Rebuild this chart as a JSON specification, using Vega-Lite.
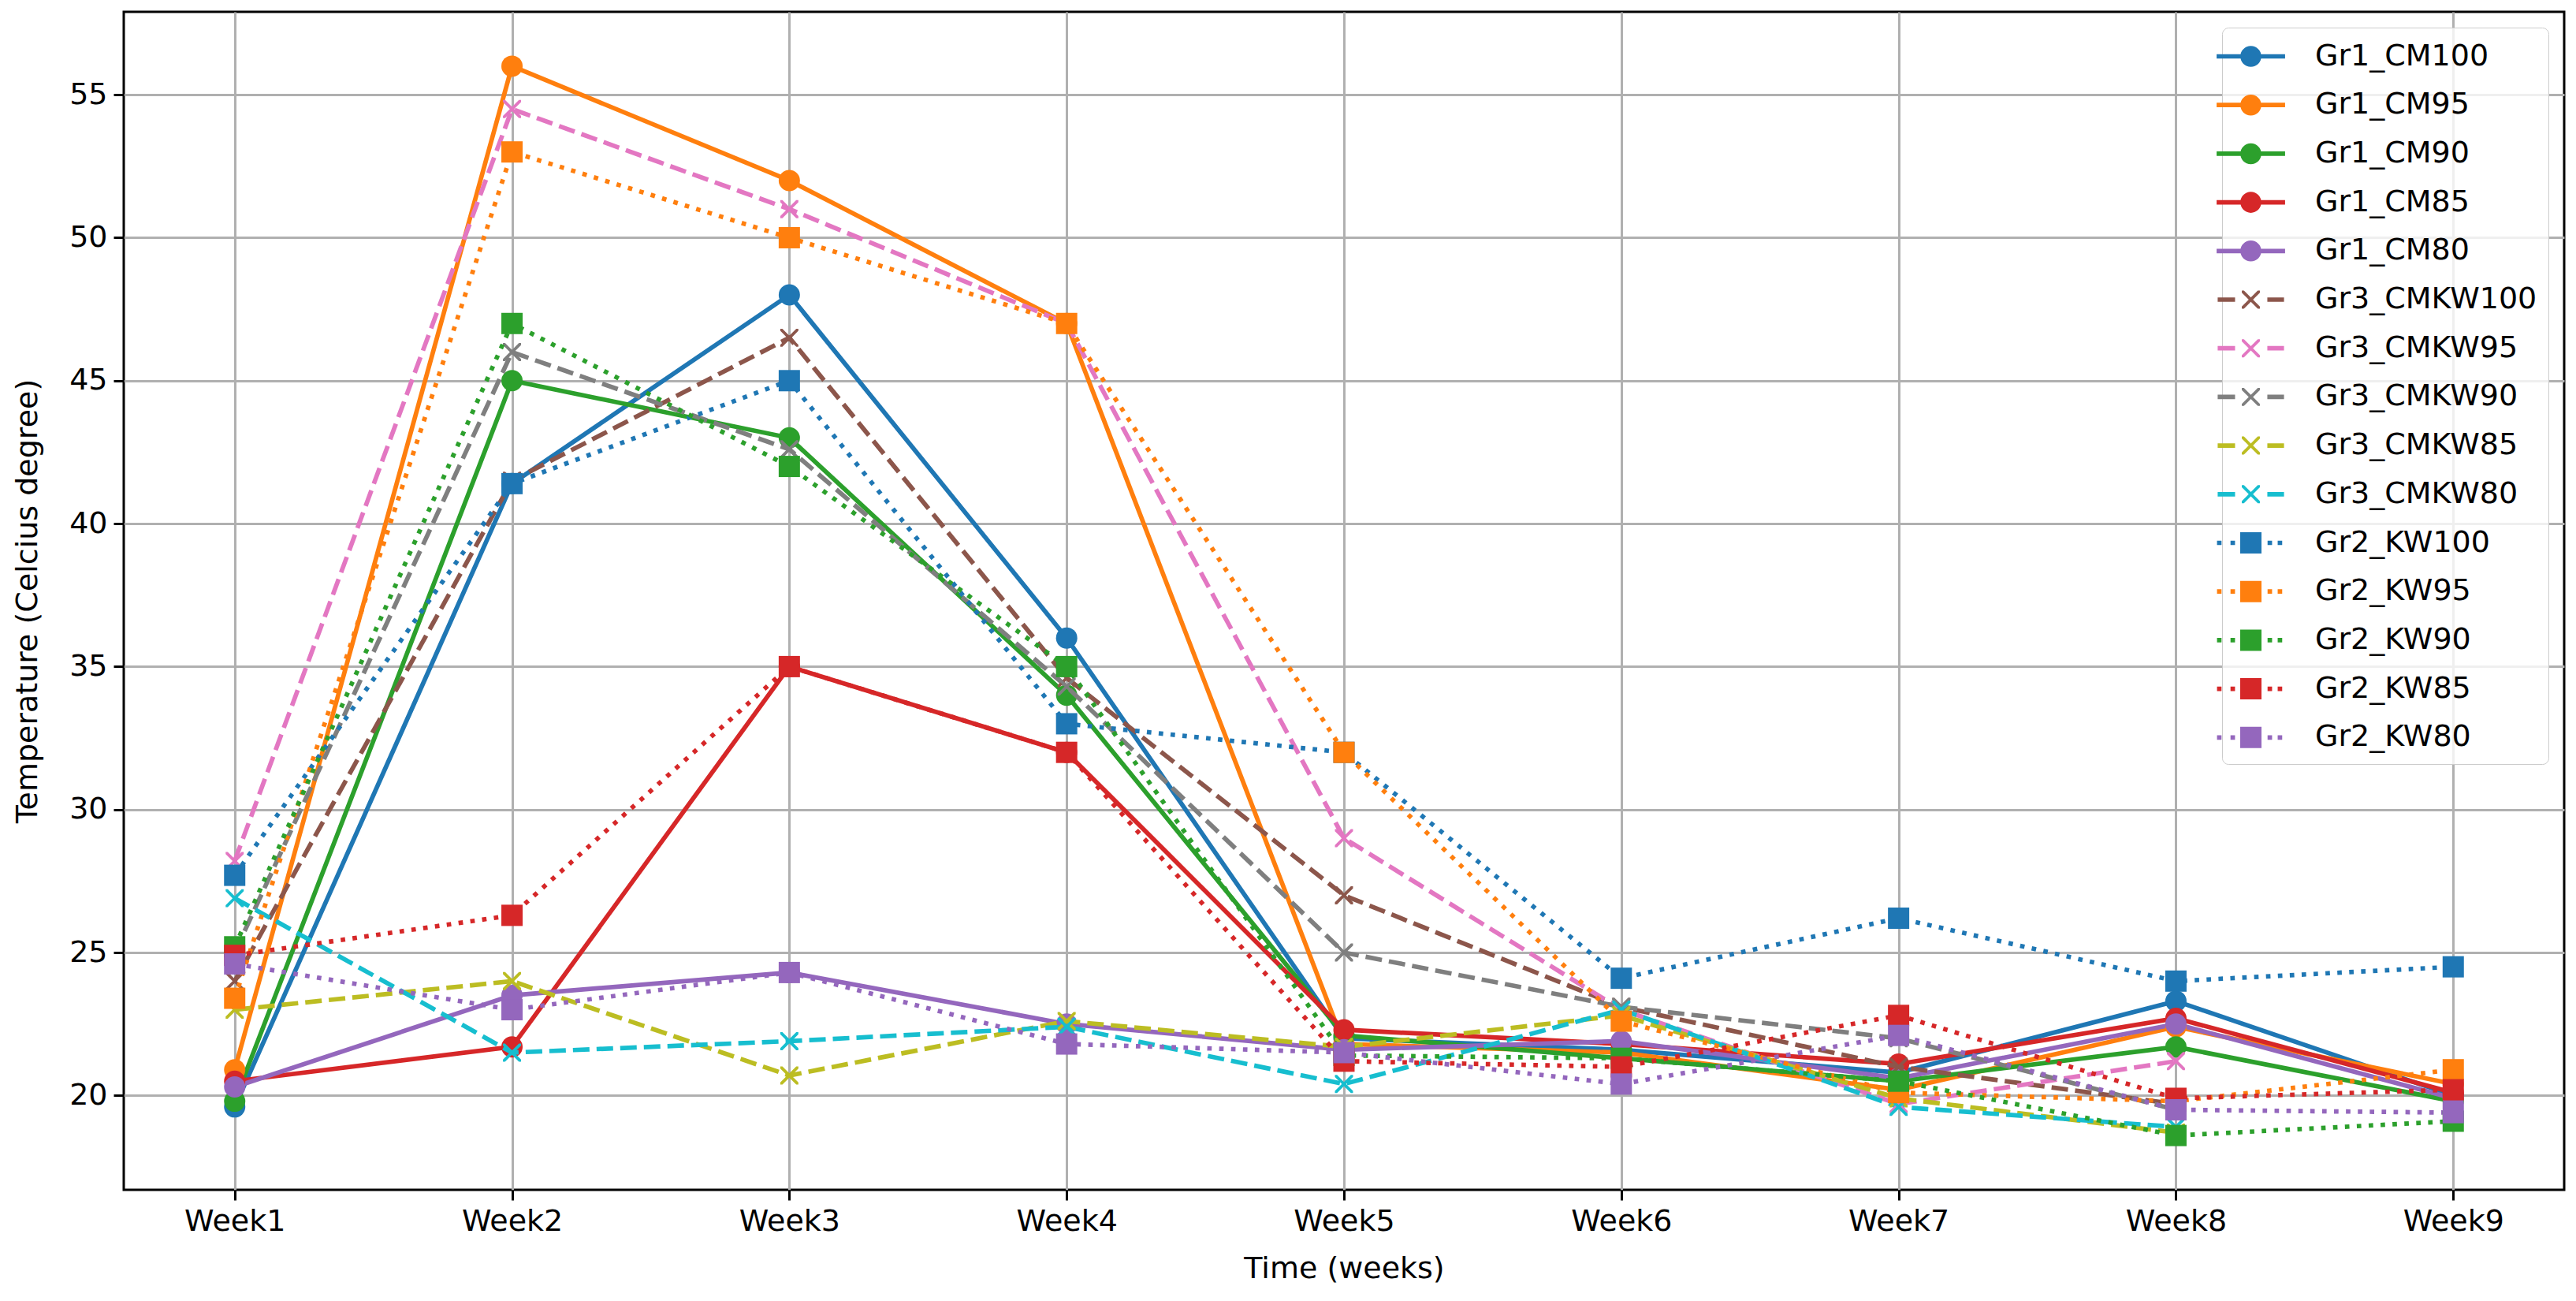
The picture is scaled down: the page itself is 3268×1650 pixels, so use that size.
{
  "$schema": "https://vega.github.io/schema/vega-lite/v6.json",
  "width": 3096,
  "height": 1494,
  "autosize": {"type": "none"},
  "padding": {"left": 157, "top": 15, "right": 15, "bottom": 141},
  "background": "#ffffff",
  "data": {
    "values": [
      {"series": "Gr1_CM100", "week": "Week1", "temp": 19.6},
      {"series": "Gr1_CM100", "week": "Week2", "temp": 41.4},
      {"series": "Gr1_CM100", "week": "Week3", "temp": 48.0},
      {"series": "Gr1_CM100", "week": "Week4", "temp": 36.0},
      {"series": "Gr1_CM100", "week": "Week5", "temp": 22.0},
      {"series": "Gr1_CM100", "week": "Week6", "temp": 21.6},
      {"series": "Gr1_CM100", "week": "Week7", "temp": 20.8},
      {"series": "Gr1_CM100", "week": "Week8", "temp": 23.3},
      {"series": "Gr1_CM100", "week": "Week9", "temp": 20.0},
      {"series": "Gr1_CM95", "week": "Week1", "temp": 20.9},
      {"series": "Gr1_CM95", "week": "Week2", "temp": 56.0},
      {"series": "Gr1_CM95", "week": "Week3", "temp": 52.0},
      {"series": "Gr1_CM95", "week": "Week4", "temp": 47.0},
      {"series": "Gr1_CM95", "week": "Week5", "temp": 21.8},
      {"series": "Gr1_CM95", "week": "Week6", "temp": 21.5},
      {"series": "Gr1_CM95", "week": "Week7", "temp": 20.2},
      {"series": "Gr1_CM95", "week": "Week8", "temp": 22.4},
      {"series": "Gr1_CM95", "week": "Week9", "temp": 20.4},
      {"series": "Gr1_CM90", "week": "Week1", "temp": 19.8},
      {"series": "Gr1_CM90", "week": "Week2", "temp": 45.0},
      {"series": "Gr1_CM90", "week": "Week3", "temp": 43.0},
      {"series": "Gr1_CM90", "week": "Week4", "temp": 34.0},
      {"series": "Gr1_CM90", "week": "Week5", "temp": 22.1},
      {"series": "Gr1_CM90", "week": "Week6", "temp": 21.3},
      {"series": "Gr1_CM90", "week": "Week7", "temp": 20.5},
      {"series": "Gr1_CM90", "week": "Week8", "temp": 21.7},
      {"series": "Gr1_CM90", "week": "Week9", "temp": 19.8},
      {"series": "Gr1_CM85", "week": "Week1", "temp": 20.5},
      {"series": "Gr1_CM85", "week": "Week2", "temp": 21.7},
      {"series": "Gr1_CM85", "week": "Week3", "temp": 35.0},
      {"series": "Gr1_CM85", "week": "Week4", "temp": 32.0},
      {"series": "Gr1_CM85", "week": "Week5", "temp": 22.3},
      {"series": "Gr1_CM85", "week": "Week6", "temp": 21.8},
      {"series": "Gr1_CM85", "week": "Week7", "temp": 21.1},
      {"series": "Gr1_CM85", "week": "Week8", "temp": 22.7},
      {"series": "Gr1_CM85", "week": "Week9", "temp": 20.1},
      {"series": "Gr1_CM80", "week": "Week1", "temp": 20.3},
      {"series": "Gr1_CM80", "week": "Week2", "temp": 23.5},
      {"series": "Gr1_CM80", "week": "Week3", "temp": 24.3},
      {"series": "Gr1_CM80", "week": "Week4", "temp": 22.5},
      {"series": "Gr1_CM80", "week": "Week5", "temp": 21.6},
      {"series": "Gr1_CM80", "week": "Week6", "temp": 21.9},
      {"series": "Gr1_CM80", "week": "Week7", "temp": 20.6},
      {"series": "Gr1_CM80", "week": "Week8", "temp": 22.5},
      {"series": "Gr1_CM80", "week": "Week9", "temp": 19.9},
      {"series": "Gr3_CMKW100", "week": "Week1", "temp": 24.0},
      {"series": "Gr3_CMKW100", "week": "Week2", "temp": 41.5},
      {"series": "Gr3_CMKW100", "week": "Week3", "temp": 46.5},
      {"series": "Gr3_CMKW100", "week": "Week4", "temp": 34.6},
      {"series": "Gr3_CMKW100", "week": "Week5", "temp": 27.0},
      {"series": "Gr3_CMKW100", "week": "Week6", "temp": 23.1},
      {"series": "Gr3_CMKW100", "week": "Week7", "temp": 21.0},
      {"series": "Gr3_CMKW100", "week": "Week8", "temp": 19.7},
      {"series": "Gr3_CMKW95", "week": "Week1", "temp": 28.2},
      {"series": "Gr3_CMKW95", "week": "Week2", "temp": 54.5},
      {"series": "Gr3_CMKW95", "week": "Week3", "temp": 51.0},
      {"series": "Gr3_CMKW95", "week": "Week4", "temp": 47.0},
      {"series": "Gr3_CMKW95", "week": "Week5", "temp": 29.0},
      {"series": "Gr3_CMKW95", "week": "Week6", "temp": 23.0},
      {"series": "Gr3_CMKW95", "week": "Week7", "temp": 19.7},
      {"series": "Gr3_CMKW95", "week": "Week8", "temp": 21.2},
      {"series": "Gr3_CMKW90", "week": "Week1", "temp": 25.0},
      {"series": "Gr3_CMKW90", "week": "Week2", "temp": 46.0},
      {"series": "Gr3_CMKW90", "week": "Week3", "temp": 42.6},
      {"series": "Gr3_CMKW90", "week": "Week4", "temp": 34.3},
      {"series": "Gr3_CMKW90", "week": "Week5", "temp": 25.0},
      {"series": "Gr3_CMKW90", "week": "Week6", "temp": 23.1},
      {"series": "Gr3_CMKW90", "week": "Week7", "temp": 22.0},
      {"series": "Gr3_CMKW90", "week": "Week8", "temp": 19.5},
      {"series": "Gr3_CMKW85", "week": "Week1", "temp": 23.0},
      {"series": "Gr3_CMKW85", "week": "Week2", "temp": 24.0},
      {"series": "Gr3_CMKW85", "week": "Week3", "temp": 20.7},
      {"series": "Gr3_CMKW85", "week": "Week4", "temp": 22.6},
      {"series": "Gr3_CMKW85", "week": "Week5", "temp": 21.7},
      {"series": "Gr3_CMKW85", "week": "Week6", "temp": 22.8},
      {"series": "Gr3_CMKW85", "week": "Week7", "temp": 19.9},
      {"series": "Gr3_CMKW85", "week": "Week8", "temp": 18.7},
      {"series": "Gr3_CMKW80", "week": "Week1", "temp": 26.9},
      {"series": "Gr3_CMKW80", "week": "Week2", "temp": 21.5},
      {"series": "Gr3_CMKW80", "week": "Week3", "temp": 21.9},
      {"series": "Gr3_CMKW80", "week": "Week4", "temp": 22.4},
      {"series": "Gr3_CMKW80", "week": "Week5", "temp": 20.4},
      {"series": "Gr3_CMKW80", "week": "Week6", "temp": 23.0},
      {"series": "Gr3_CMKW80", "week": "Week7", "temp": 19.6},
      {"series": "Gr3_CMKW80", "week": "Week8", "temp": 18.9},
      {"series": "Gr2_KW100", "week": "Week1", "temp": 27.7},
      {"series": "Gr2_KW100", "week": "Week2", "temp": 41.4},
      {"series": "Gr2_KW100", "week": "Week3", "temp": 45.0},
      {"series": "Gr2_KW100", "week": "Week4", "temp": 33.0},
      {"series": "Gr2_KW100", "week": "Week5", "temp": 32.0},
      {"series": "Gr2_KW100", "week": "Week6", "temp": 24.1},
      {"series": "Gr2_KW100", "week": "Week7", "temp": 26.2},
      {"series": "Gr2_KW100", "week": "Week8", "temp": 24.0},
      {"series": "Gr2_KW100", "week": "Week9", "temp": 24.5},
      {"series": "Gr2_KW95", "week": "Week1", "temp": 23.4},
      {"series": "Gr2_KW95", "week": "Week2", "temp": 53.0},
      {"series": "Gr2_KW95", "week": "Week3", "temp": 50.0},
      {"series": "Gr2_KW95", "week": "Week4", "temp": 47.0},
      {"series": "Gr2_KW95", "week": "Week5", "temp": 32.0},
      {"series": "Gr2_KW95", "week": "Week6", "temp": 22.6},
      {"series": "Gr2_KW95", "week": "Week7", "temp": 20.1},
      {"series": "Gr2_KW95", "week": "Week8", "temp": 19.8},
      {"series": "Gr2_KW95", "week": "Week9", "temp": 20.9},
      {"series": "Gr2_KW90", "week": "Week1", "temp": 25.2},
      {"series": "Gr2_KW90", "week": "Week2", "temp": 47.0},
      {"series": "Gr2_KW90", "week": "Week3", "temp": 42.0},
      {"series": "Gr2_KW90", "week": "Week4", "temp": 35.0},
      {"series": "Gr2_KW90", "week": "Week5", "temp": 21.4},
      {"series": "Gr2_KW90", "week": "Week6", "temp": 21.3},
      {"series": "Gr2_KW90", "week": "Week7", "temp": 20.5},
      {"series": "Gr2_KW90", "week": "Week8", "temp": 18.6},
      {"series": "Gr2_KW90", "week": "Week9", "temp": 19.1},
      {"series": "Gr2_KW85", "week": "Week1", "temp": 24.9},
      {"series": "Gr2_KW85", "week": "Week2", "temp": 26.3},
      {"series": "Gr2_KW85", "week": "Week3", "temp": 35.0},
      {"series": "Gr2_KW85", "week": "Week4", "temp": 32.0},
      {"series": "Gr2_KW85", "week": "Week5", "temp": 21.2},
      {"series": "Gr2_KW85", "week": "Week6", "temp": 21.0},
      {"series": "Gr2_KW85", "week": "Week7", "temp": 22.8},
      {"series": "Gr2_KW85", "week": "Week8", "temp": 19.9},
      {"series": "Gr2_KW85", "week": "Week9", "temp": 20.2},
      {"series": "Gr2_KW80", "week": "Week1", "temp": 24.6},
      {"series": "Gr2_KW80", "week": "Week2", "temp": 23.0},
      {"series": "Gr2_KW80", "week": "Week3", "temp": 24.3},
      {"series": "Gr2_KW80", "week": "Week4", "temp": 21.8},
      {"series": "Gr2_KW80", "week": "Week5", "temp": 21.5},
      {"series": "Gr2_KW80", "week": "Week6", "temp": 20.4},
      {"series": "Gr2_KW80", "week": "Week7", "temp": 22.1},
      {"series": "Gr2_KW80", "week": "Week8", "temp": 19.5},
      {"series": "Gr2_KW80", "week": "Week9", "temp": 19.4}
    ]
  },
  "encoding": {
    "x": {
      "field": "week", "type": "nominal",
      "scale": {"type": "point", "padding": 0.4},
      "axis": {"title": "Time (weeks)", "labelAngle": 0, "titlePadding": 22}
    },
    "y": {
      "field": "temp", "type": "quantitative",
      "scale": {"domain": [16.7, 57.9], "nice": false, "zero": false},
      "axis": {"title": "Temperature (Celcius degree)", "values": [20, 25, 30, 35, 40, 45, 50, 55], "titlePadding": 33}
    },
    "color": {
      "field": "series", "type": "nominal",
      "scale": {
        "domain": ["Gr1_CM100", "Gr1_CM95", "Gr1_CM90", "Gr1_CM85", "Gr1_CM80", "Gr3_CMKW100", "Gr3_CMKW95", "Gr3_CMKW90", "Gr3_CMKW85", "Gr3_CMKW80", "Gr2_KW100", "Gr2_KW95", "Gr2_KW90", "Gr2_KW85", "Gr2_KW80"],
        "range": ["#1f77b4", "#ff7f0e", "#2ca02c", "#d62728", "#9467bd", "#8c564b", "#e377c2", "#7f7f7f", "#bcbd22", "#17becf", "#1f77b4", "#ff7f0e", "#2ca02c", "#d62728", "#9467bd"]
      },
      "legend": {
        "title": null,
        "orient": "top-right",
        "offset": 20,
        "labelFont": "DejaVu Sans",
        "labelFontSize": 38,
        "labelColor": "#000000",
        "labelLimit": 1000,
        "symbolSize": 2025,
        "symbolStrokeWidth": 0,
        "labelOffset": 59,
        "rowPadding": 19.7,
        "padding": 14,
        "fillColor": "rgba(255,255,255,0.8)",
        "strokeColor": "#cccccc",
        "cornerRadius": 8,
        "encode": {
          "symbols": {
            "update": {
              "shape": {"signal": "slice(datum.value,0,3) == 'Gr1' ? 'M-1.93,-0.127H1.93V0.127H-1.93ZM0.59,0A0.59,0.59 0 1,1 -0.59,0A0.59,0.59 0 1,1 0.59,0Z' : (slice(datum.value,0,3) == 'Gr3' ? 'M-1.87,-0.127H-0.89V0.127H-1.87ZM0.93,-0.127H1.87V0.127H0.93ZM0,0.12L0.39,0.51L0.51,0.51L0.51,0.39L0.12,0L0.51,-0.39L0.51,-0.51L0.39,-0.51L0,-0.12L-0.39,-0.51L-0.51,-0.51L-0.51,-0.39L-0.12,0L-0.51,0.39L-0.51,0.51L-0.39,0.51Z' : 'M-1.907,-0.127H-1.653V0.127H-1.907ZM-1.147,-0.127H-0.893V0.127H-1.147ZM0.943,-0.127H1.197V0.127H0.943ZM1.513,-0.127H1.767V0.127H1.513ZM-0.6,-0.6H0.6V0.6H-0.6Z')"},
              "fill": {"scale": "color", "field": "value"},
              "fillOpacity": {"value": 1},
              "opacity": {"value": 1},
              "strokeWidth": {"value": 0}
            }
          }
        }
      }
    }
  },
  "layer": [
    {
      "transform": [{"filter": "slice(datum.series,0,3) == 'Gr1'"}],
      "mark": {"type": "line", "strokeWidth": 5.7, "strokeCap": "butt"}
    },
    {
      "transform": [{"filter": "slice(datum.series,0,3) == 'Gr1'"}],
      "mark": {"type": "point", "filled": true, "opacity": 1, "size": 729, "strokeWidth": 0, "shape": "circle"}
    },
    {
      "transform": [{"filter": "slice(datum.series,0,3) == 'Gr3'"}],
      "mark": {"type": "line", "strokeWidth": 5.7, "strokeCap": "butt", "strokeDash": [21, 9]}
    },
    {
      "transform": [{"filter": "slice(datum.series,0,3) == 'Gr3'"}],
      "mark": {"type": "point", "filled": true, "opacity": 1, "size": 729, "strokeWidth": 0, "shape": "M0,0.2L0.65,0.85L0.85,0.85L0.85,0.65L0.2,0L0.85,-0.65L0.85,-0.85L0.65,-0.85L0,-0.2L-0.65,-0.85L-0.85,-0.85L-0.85,-0.65L-0.2,0L-0.85,0.65L-0.85,0.85L-0.65,0.85Z"}
    },
    {
      "transform": [{"filter": "slice(datum.series,0,3) == 'Gr2'"}],
      "mark": {"type": "line", "strokeWidth": 5.7, "strokeCap": "butt", "strokeDash": [5.7, 9.4]}
    },
    {
      "transform": [{"filter": "slice(datum.series,0,3) == 'Gr2'"}],
      "mark": {"type": "point", "filled": true, "opacity": 1, "size": 729, "strokeWidth": 0, "shape": "square"}
    }
  ],
  "config": {
    "view": {"stroke": "#000000", "strokeWidth": 3},
    "font": "DejaVu Sans",
    "axis": {
      "labelFont": "DejaVu Sans", "labelFontSize": 38, "labelColor": "#000000",
      "titleFont": "DejaVu Sans", "titleFontSize": 38, "titleFontWeight": "normal", "titleColor": "#000000",
      "domain": false, "grid": true, "gridColor": "#b0b0b0", "gridWidth": 3,
      "ticks": true, "tickColor": "#000000", "tickWidth": 3, "tickSize": 13, "labelPadding": 8
    }
  }
}
